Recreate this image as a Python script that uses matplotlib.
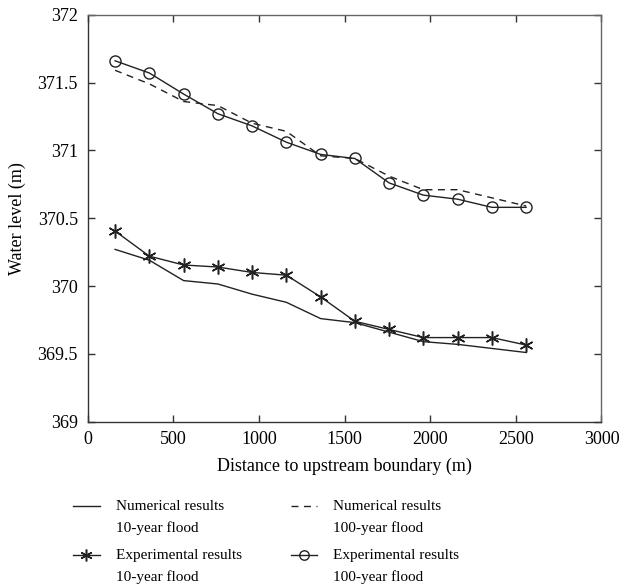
"""
Water level along the channel - numerical vs experimental results
"""
import matplotlib
matplotlib.use('Agg')
import matplotlib.pyplot as plt
from matplotlib.legend_handler import HandlerLine2D

# distance to upstream boundary (m)
distance = [160, 360, 560, 760, 960, 1160, 1360, 1560, 1760, 1960, 2160, 2360, 2560]

# water level (m)
num_10yr = [370.27, 370.19, 370.04, 370.015, 369.94, 369.88, 369.76, 369.73,
            369.66, 369.59, 369.57, 369.54, 369.51]
num_100yr = [371.59, 371.49, 371.36, 371.33, 371.20, 371.14, 370.96, 370.94,
             370.81, 370.71, 370.71, 370.65, 370.59]
exp_10yr = [370.405, 370.22, 370.155, 370.14, 370.10, 370.08, 369.92, 369.74,
            369.68, 369.62, 369.62, 369.62, 369.565]
exp_100yr = [371.66, 371.57, 371.415, 371.27, 371.18, 371.06, 370.97, 370.94,
             370.76, 370.67, 370.64, 370.58, 370.58]

legend_labels = ["Numerical results\n10-year flood",
                 "Numerical results\n100-year flood",
                 "Experimental results\n10-year flood",
                 "Experimental results\n100-year flood"]

plt.rcParams['font.family'] = ['Liberation Serif', 'DejaVu Serif']
plt.rcParams['font.size'] = 13

LINE = '#222222'


class TopHandler(HandlerLine2D):
    """把图例线条对齐到两行文字的第一行"""
    def create_artists(self, legend, orig_handle, xdescent, ydescent,
                       width, height, fontsize, trans):
        return super().create_artists(legend, orig_handle, xdescent,
                                      ydescent - 1.5 * fontsize,
                                      width, height, fontsize, trans)


fig = plt.figure(figsize=(6.22, 5.87), dpi=100)
ax = fig.add_axes([0.141, 0.2816, 0.826, 0.6934])

l1, = ax.plot(distance, num_10yr, color=LINE, lw=1.0, ls='-')
l2, = ax.plot(distance, num_100yr, color=LINE, lw=1.0, ls=(0, (5, 4)))
l3, = ax.plot(distance, exp_10yr, color=LINE, lw=1.0, marker=(6, 2, 0),
              ms=10, mew=1.1)
l4, = ax.plot(distance, exp_100yr, color=LINE, lw=1.0, marker='o', ms=8,
              mfc='none', mew=1.0)

ax.set_xlim(0, 3000)
ax.set_ylim(369, 372)
ax.set_xticks(range(0, 3001, 500))
ax.set_yticks([369, 369.5, 370, 370.5, 371, 371.5, 372])
ax.set_yticklabels(['369', '369.5', '370', '370.5', '371', '371.5', '372'])
ax.tick_params(direction='in', top=True, right=True, length=5, width=1.0,
               color='#333333', pad=7)
for s in ax.spines.values():
    s.set_color('#333333')
    s.set_linewidth(1.0)
ax.spines['top'].set_color('#666666')
ax.spines['right'].set_color('#666666')

ax.set_xlabel("Distance to upstream boundary (m)", labelpad=7)
ax.set_ylabel("Water level (m)", labelpad=8)

# 按行排列：先一行两个数值结果，再一行两个实验结果
handles = [l1, l3, l2, l4]
labels = [legend_labels[0], legend_labels[2], legend_labels[1], legend_labels[3]]
leg = fig.legend(handles, labels, ncol=2, frameon=False,
                 loc='upper left', bbox_to_anchor=(0.095, 0.172),
                 fontsize=11, handlelength=1.75, handletextpad=1.05,
                 columnspacing=3.2, labelspacing=0.9, markerscale=0.85,
                 handler_map={h: TopHandler() for h in handles})
for t in leg.get_texts():
    t.set_linespacing(1.8)

fig.savefig('out.png', dpi=100)
